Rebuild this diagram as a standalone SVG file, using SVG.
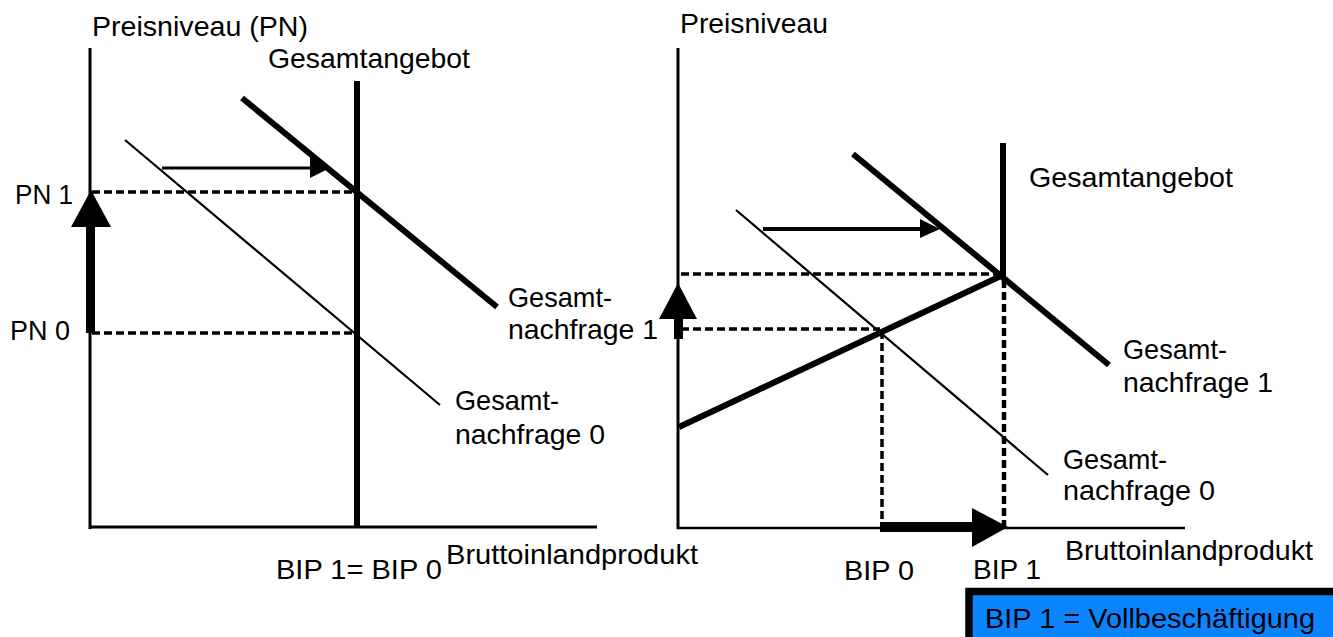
<svg xmlns="http://www.w3.org/2000/svg" width="1333" height="637" viewBox="0 0 1333 637">
<style>
text{font-family:"Liberation Sans",Arial,sans-serif;font-size:28px;fill:#000}
.ax{stroke:#000;stroke-width:3;fill:none}
.thick{stroke:#000;stroke-width:6;fill:none}
.thin{stroke:#000;stroke-width:2.2;fill:none}
.dash{stroke:#000;stroke-width:3.5;stroke-dasharray:8 4;fill:none}
</style>
<rect width="1333" height="637" fill="#fff"/>
<g id="left-panel">
  <g id="left-axes">
    <line class="ax" x1="90" y1="48" x2="90" y2="529"/>
    <line class="ax" x1="89" y1="527" x2="597" y2="527"/>
  </g>
  <g id="left-angebot">
    <line class="thick" x1="357" y1="81" x2="357" y2="528"/>
    <text x="268" y="68" textLength="202" lengthAdjust="spacingAndGlyphs">Gesamtangebot</text>
  </g>
  <g id="left-nachfrage1">
    <line class="thick" x1="242" y1="98" x2="497" y2="307"/>
    <text x="508" y="307" textLength="104" lengthAdjust="spacingAndGlyphs">Gesamt-</text>
    <text x="508" y="339" textLength="150" lengthAdjust="spacingAndGlyphs">nachfrage 1</text>
  </g>
  <g id="left-nachfrage0">
    <line class="thin" x1="125" y1="140" x2="440" y2="405"/>
    <text x="455" y="410" textLength="104" lengthAdjust="spacingAndGlyphs">Gesamt-</text>
    <text x="455" y="444" textLength="150" lengthAdjust="spacingAndGlyphs">nachfrage 0</text>
  </g>
  <g id="left-connectors">
    <line class="dash" x1="92" y1="192" x2="357" y2="192"/>
    <line class="dash" x1="92" y1="333" x2="357" y2="333"/>
    <line x1="162" y1="168" x2="315" y2="168" stroke="#000" stroke-width="3"/>
    <polygon points="310,157 330,168 310,178" fill="#000"/>
    <rect x="86" y="224" width="9" height="109" fill="#000"/>
    <polygon points="71,227 111,227 91,190" fill="#000"/>
  </g>
  <g id="left-labels">
    <text x="92" y="36" textLength="216" lengthAdjust="spacingAndGlyphs">Preisniveau (PN)</text>
    <text x="15" y="204" textLength="58" lengthAdjust="spacingAndGlyphs">PN 1</text>
    <text x="10" y="340" textLength="60" lengthAdjust="spacingAndGlyphs">PN 0</text>
    <text x="276" y="579" textLength="166" lengthAdjust="spacingAndGlyphs">BIP 1= BIP 0</text>
    <text x="446" y="564" textLength="252" lengthAdjust="spacingAndGlyphs">Bruttoinlandprodukt</text>
  </g>
</g>
<g id="right-panel">
  <g id="right-axes">
    <line class="ax" x1="678" y1="48" x2="678" y2="529"/>
    <line x1="677" y1="528" x2="1185" y2="528" stroke="#000" stroke-width="2.5"/>
  </g>
  <g id="right-angebot">
    <line class="thick" x1="1003" y1="143" x2="1003" y2="277"/>
    <line class="thick" x1="679" y1="427" x2="1003" y2="275"/>
    <text x="1029" y="187" textLength="204" lengthAdjust="spacingAndGlyphs">Gesamtangebot</text>
  </g>
  <g id="right-nachfrage1">
    <line class="thick" x1="853" y1="154" x2="1109" y2="365"/>
    <text x="1123" y="359" textLength="104" lengthAdjust="spacingAndGlyphs">Gesamt-</text>
    <text x="1123" y="392" textLength="150" lengthAdjust="spacingAndGlyphs">nachfrage 1</text>
  </g>
  <g id="right-nachfrage0">
    <line class="thin" x1="736" y1="210" x2="1048" y2="475"/>
    <text x="1063" y="469" textLength="104" lengthAdjust="spacingAndGlyphs">Gesamt-</text>
    <text x="1063" y="500" textLength="152" lengthAdjust="spacingAndGlyphs">nachfrage 0</text>
  </g>
  <g id="right-connectors">
    <line class="dash" x1="681" y1="274" x2="998" y2="274"/>
    <line class="dash" x1="681" y1="329" x2="880" y2="329"/>
    <line class="dash" x1="882" y1="331" x2="882" y2="527"/>
    <line x1="1004" y1="280" x2="1004" y2="527" stroke="#000" stroke-width="4.5" stroke-dasharray="8 4"/>
    <line x1="763" y1="229" x2="922" y2="229" stroke="#000" stroke-width="4"/>
    <polygon points="920,219 940,229 920,238" fill="#000"/>
    <rect x="674" y="317" width="9" height="22" fill="#000"/>
    <polygon points="659,319 697,319 678,283" fill="#000"/>
    <rect x="880" y="522" width="95" height="10" fill="#000"/>
    <polygon points="972,508 1008,527 972,547" fill="#000"/>
  </g>
  <g id="right-labels">
    <text x="680" y="33" textLength="148" lengthAdjust="spacingAndGlyphs">Preisniveau</text>
    <text x="844" y="580" textLength="70" lengthAdjust="spacingAndGlyphs">BIP 0</text>
    <text x="973" y="579" textLength="68" lengthAdjust="spacingAndGlyphs">BIP 1</text>
    <text x="1065" y="560" textLength="248" lengthAdjust="spacingAndGlyphs">Bruttoinlandprodukt</text>
  </g>
</g>
<g id="note">
  <rect x="969" y="591.5" width="375" height="60" fill="#0a84ff" stroke="#000" stroke-width="7.5"/>
  <text x="985" y="628" textLength="330" lengthAdjust="spacingAndGlyphs">BIP 1 = Vollbeschäftigung</text>
</g>
</svg>
